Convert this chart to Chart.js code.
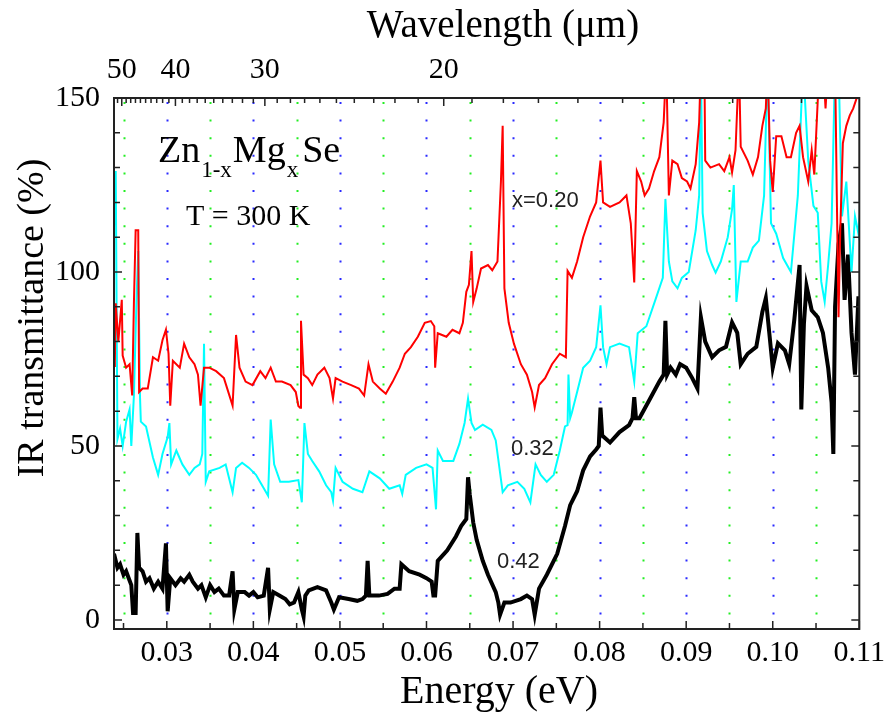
<!DOCTYPE html>
<html>
<head>
<meta charset="utf-8">
<script src="https://cdn.jsdelivr.net/npm/chart.js@4.4.1/dist/chart.umd.min.js"></script>
<style>
  html, body { margin: 0; padding: 0; background: #fff; }
  #grafico { display: block; }
</style>
</head>
<body>
<canvas id="grafico" width="891" height="712"></canvas>
<script>
// Axis ranges and tick labels
const energyMin = 0.0239;
const energyMax = 0.11;
const energyTicks = [0.03, 0.04, 0.05, 0.06, 0.07, 0.08, 0.09, 0.10, 0.11];
const transTicks = [0, 50, 100, 150];
const wavelengthLabels = [50, 40, 30, 20];

// x = 0.20 (red)
const redEnergy = [
  0.0239, 0.0240, 0.0241, 0.0244, 0.0248, 0.0249, 0.0253, 0.0257, 0.0260, 0.0262,
  0.0264, 0.0267, 0.0268, 0.0272, 0.0278, 0.0284, 0.0290, 0.0295, 0.0299, 0.0302,
  0.0304, 0.0307, 0.0315, 0.0320, 0.0326, 0.0332, 0.0336, 0.0339, 0.0343, 0.0349,
  0.0357, 0.0366, 0.0376, 0.0380, 0.0384, 0.0391, 0.0399, 0.0408, 0.0414, 0.0420,
  0.0426, 0.0433, 0.0443, 0.0449, 0.0452, 0.0454, 0.0455, 0.0458, 0.0463, 0.0468,
  0.0474, 0.0482, 0.0488, 0.0492, 0.0495, 0.0503, 0.0513, 0.0522, 0.0528, 0.0533,
  0.0538, 0.0546, 0.0553, 0.0561, 0.0569, 0.0575, 0.0582, 0.0590, 0.0598, 0.0605,
  0.0609, 0.0610, 0.0613, 0.0623, 0.0630, 0.0638, 0.0642, 0.0646, 0.0649, 0.0652,
  0.0654, 0.0658, 0.0663, 0.0671, 0.0676, 0.0682, 0.0686, 0.0688, 0.0690, 0.0695,
  0.0701, 0.0709, 0.0716, 0.0722, 0.0725, 0.0730, 0.0737, 0.0745, 0.0754, 0.0761,
  0.0763, 0.0768, 0.0774, 0.0781, 0.0789, 0.0796, 0.0801, 0.0804, 0.0812, 0.0823,
  0.0831, 0.0836, 0.0840, 0.0843, 0.0848, 0.0852, 0.0857, 0.0863, 0.0869, 0.0874,
  0.0877, 0.0880, 0.0884, 0.0890, 0.0895, 0.0901, 0.0905, 0.0911, 0.0915, 0.0917,
  0.0921, 0.0922, 0.0928, 0.0938, 0.0944, 0.0950, 0.0953, 0.0957, 0.0961, 0.0963,
  0.0971, 0.0977, 0.0983, 0.0988, 0.0992, 0.0994, 0.0997, 0.1000, 0.1004, 0.1010,
  0.1016, 0.1021, 0.1027, 0.1031, 0.1035, 0.1041, 0.1045, 0.1048, 0.1054, 0.1058,
  0.1061, 0.1064, 0.1072, 0.1074, 0.1076, 0.1078, 0.1081, 0.1085, 0.1089, 0.1093,
  0.1097, 0.1101
];
const redTrans = [
  73, 74, 91, 80, 92, 76, 72.5, 73.5, 64.5, 91,
  112, 112, 65.5, 66.5, 66.5, 75.5, 74.5, 80.4, 83.4, 76.5,
  61.6, 74.5, 72.5, 79.4, 75.5, 73.5, 70.5, 61.6, 72.5, 72.5,
  71.5, 69.5, 61.6, 81.9, 72.5, 68.5, 67.5, 71.5, 69.5, 72.5,
  68.5, 68.5, 67.5, 65.5, 61.5, 61, 86, 70.5, 69.5, 67.5,
  70.5, 72.5, 69.5, 63.6, 69.5, 68.5, 67.5, 66.5, 64.5, 73.5,
  68.5, 66.5, 65, 68.5, 72.5, 76.5, 78.4, 81.4, 85.4, 85.9,
  84.4, 72.5, 82.4, 81.4, 83.4, 82.4, 85.4, 94.3, 96.3, 106,
  91.4, 95.3, 101, 102, 100.5, 103, 126, 142, 95.3, 85.4,
  79.4, 73.5, 70.5, 65.5, 61.1, 67.5, 69.5, 73.5, 76.5, 75.5,
  100.3, 98.3, 103, 110, 116, 120, 132, 120, 118.7, 120,
  122, 114, 97, 129, 126, 122, 124, 129, 133, 143,
  160, 122, 132, 131, 127, 126, 124, 131, 143, 160,
  160, 132, 130, 131, 129, 133, 128.6, 135, 160, 136,
  132, 128, 133, 142, 147, 160, 132, 123, 139, 139,
  133, 133, 140, 142, 133, 126, 135, 128, 160, 160,
  147, 160, 160, 122, 87, 112, 137, 142, 145, 147,
  150, 160
];

// x = 0.32 (cyan)
const cyanEnergy = [
  0.0239, 0.0241, 0.0243, 0.0246, 0.0249, 0.0253, 0.0257, 0.0259, 0.0262, 0.0265,
  0.0267, 0.0269, 0.0270, 0.0276, 0.0284, 0.0290, 0.0295, 0.0301, 0.0303, 0.0305,
  0.0311, 0.0318, 0.0326, 0.0332, 0.0338, 0.0341, 0.0343, 0.0345, 0.0349, 0.0361,
  0.0368, 0.0376, 0.0380, 0.0387, 0.0395, 0.0403, 0.0410, 0.0417, 0.0420, 0.0424,
  0.0431, 0.0441, 0.0452, 0.0456, 0.0459, 0.0463, 0.0468, 0.0476, 0.0484, 0.0490,
  0.0492, 0.0495, 0.0503, 0.0515, 0.0526, 0.0534, 0.0546, 0.0557, 0.0569, 0.0572,
  0.0576, 0.0588, 0.0600, 0.0607, 0.0611, 0.0613, 0.0619, 0.0631, 0.0638, 0.0644,
  0.0648, 0.0652, 0.0656, 0.0665, 0.0675, 0.0680, 0.0688, 0.0694, 0.0705, 0.0713,
  0.0720, 0.0726, 0.0732, 0.0739, 0.0747, 0.0754, 0.0760, 0.0763, 0.0764, 0.0766,
  0.0768, 0.0774, 0.0781, 0.0789, 0.0796, 0.0801, 0.0804, 0.0808, 0.0812, 0.0823,
  0.0834, 0.0840, 0.0844, 0.0854, 0.0865, 0.0873, 0.0876, 0.0880, 0.0884, 0.0890,
  0.0895, 0.0903, 0.0911, 0.0915, 0.0917, 0.0919, 0.0924, 0.0930, 0.0934, 0.0940,
  0.0948, 0.0953, 0.0955, 0.0958, 0.0963, 0.0971, 0.0977, 0.0984, 0.0990, 0.0994,
  0.0998, 0.1004, 0.1012, 0.1021, 0.1029, 0.1035, 0.1041, 0.1047, 0.1052, 0.1056,
  0.1060, 0.1064, 0.1068, 0.1072, 0.1076, 0.1080, 0.1085, 0.1091, 0.1095, 0.1099,
  0.1101
];
const cyanTrans = [
  113, 129, 52, 55, 50, 57, 60.5, 50, 64.5, 92,
  106, 64.5, 57, 55.6, 46.7, 41.7, 47.7, 52.6, 56.6, 44.7,
  48.7, 44.7, 41.7, 43.7, 44.7, 47.7, 79.4, 39.7, 42.7, 43.7,
  44.7, 36.7, 43.7, 45.2, 43.7, 41.7, 38.7, 35.7, 57.6, 44.7,
  39.7, 39.7, 40.2, 33.8, 56.6, 47.7, 45.7, 42.7, 38.7, 36.7,
  34.3, 43.7, 39.7, 37.7, 36.7, 42.7, 40.7, 37.7, 38.7, 36.2,
  41.7, 43.7, 44.7, 43.7, 31.8, 48.7, 45.7, 45.7, 50.6, 56.6,
  63.6, 56.6, 54.6, 56.1, 54.6, 51.6, 36.7, 38.7, 39.7, 37.7,
  33.8, 44.7, 41.7, 39.7, 41.7, 48.7, 55.6, 56, 70.5, 58,
  59.6, 65.5, 72.5, 74.5, 78.4, 90.4, 78.4, 73.5, 78.4, 79.4,
  78.4, 68.5, 82.4, 84.4, 92.4, 98.3, 121, 103, 97.3, 95.3,
  98.3, 100, 112, 122, 160, 117, 106, 102, 99.8, 103,
  110, 118, 125, 91.4, 103, 103, 107, 109, 122, 160,
  114, 111, 104, 100, 122, 160, 132, 119, 117, 97.3,
  91.4, 102, 114, 160, 160, 116, 126, 100, 116, 111,
  117
];

// x = 0.42 (black)
const blackEnergy = [
  0.0239, 0.0243, 0.0246, 0.0250, 0.0253, 0.0256, 0.0259, 0.0261, 0.0264, 0.0266,
  0.0268, 0.0272, 0.0276, 0.0280, 0.0285, 0.0290, 0.0295, 0.0299, 0.0301, 0.0304,
  0.0310, 0.0316, 0.0320, 0.0326, 0.0330, 0.0336, 0.0340, 0.0345, 0.0350, 0.0355,
  0.0360, 0.0366, 0.0372, 0.0376, 0.0378, 0.0382, 0.0390, 0.0395, 0.0400, 0.0405,
  0.0412, 0.0417, 0.0419, 0.0423, 0.0430, 0.0437, 0.0442, 0.0447, 0.0452, 0.0456,
  0.0458, 0.0460, 0.0464, 0.0474, 0.0484, 0.0490, 0.0493, 0.0499, 0.0510, 0.0520,
  0.0526, 0.0530, 0.0532, 0.0534, 0.0545, 0.0555, 0.0563, 0.0569, 0.0571, 0.0580,
  0.0592, 0.0600, 0.0606, 0.0608, 0.0610, 0.0613, 0.0624, 0.0634, 0.0640, 0.0646,
  0.0648, 0.0650, 0.0654, 0.0658, 0.0665, 0.0671, 0.0680, 0.0683, 0.0685, 0.0690,
  0.0697, 0.0709, 0.0716, 0.0722, 0.0725, 0.0730, 0.0739, 0.0751, 0.0760, 0.0766,
  0.0774, 0.0781, 0.0789, 0.0796, 0.0799, 0.0801, 0.0803, 0.0812, 0.0823, 0.0834,
  0.0838, 0.0840, 0.0842, 0.0846, 0.0857, 0.0869, 0.0874, 0.0876, 0.0878, 0.0882,
  0.0888, 0.0893, 0.0900, 0.0907, 0.0913, 0.0917, 0.0922, 0.0930, 0.0938, 0.0946,
  0.0953, 0.0959, 0.0963, 0.0971, 0.0981, 0.0988, 0.0992, 0.0996, 0.1000, 0.1006,
  0.1014, 0.1019, 0.1025, 0.1031, 0.1033, 0.1036, 0.1039, 0.1045, 0.1052, 0.1058,
  0.1064, 0.1068, 0.1070, 0.1072, 0.1076, 0.1080, 0.1083, 0.1087, 0.1091, 0.1095,
  0.1099, 0.1101
];
const blackTrans = [
  19, 15, 16, 13, 14, 12, 10, 2, 2, 25,
  15, 14, 11, 12, 9, 11, 9, 22, 2.5, 12,
  10, 12, 11, 13, 11, 9, 10, 6.5, 10, 8,
  9, 7, 7, 14, 3, 8, 8, 7, 8, 6.5,
  7, 15, 3, 8, 7, 6, 4.5, 5, 8, 3,
  1, 7, 8.5, 9.4, 8.5, 5, 3, 6.5, 6, 5.5,
  6, 7, 17, 7, 7, 7.5, 9, 9, 16, 14,
  13, 12, 11, 7, 7, 17, 20, 24, 27, 29,
  41, 36, 28, 23, 17, 13, 8, 5, 1.5, 5,
  5, 6, 7, 6, 1.5, 9, 13, 19, 27, 33,
  37, 43, 47, 49, 50, 61, 53, 51, 54, 56,
  58, 64, 58, 58, 63, 68.5, 70.5, 86, 70.5, 72.5,
  70.5, 73.5, 72.5, 69.5, 66.5, 87, 80, 75.5, 77.5, 78.5,
  85.5, 82.5, 73.5, 76.5, 78.5, 88.5, 92.5, 82.5, 72.5, 79.5,
  77.5, 73.5, 86.5, 102, 60.5, 85, 96, 89, 87, 82.5,
  72.5, 62.5, 47.7, 90, 108, 114, 92, 105, 82.5, 70.5,
  93, 80
];

const serif = "'Liberation Serif', 'Times New Roman', serif";
const sans = "'Liberation Sans', Arial, sans-serif";

function pares(xs, ys) {
  return xs.map((x, i) => ({ x, y: ys[i] }));
}

// dotted verticals, inward ticks, frame, titles and labels
const extras = {
  id: 'extras',
  beforeDatasetsDraw(chart) {
    const { ctx, chartArea: a, scales: { x } } = chart;
    ctx.save();
    ctx.lineWidth = 2;
    ctx.setLineDash([2, 15.6]);
    for (let k = 5; k < 22; k++) {
      const px = Math.round(x.getPixelForValue(k * 0.005)) + 0.5;
      ctx.strokeStyle = k % 2 === 0 ? '#2a2aff' : '#22ee22';
      ctx.beginPath();
      ctx.moveTo(px, a.top + 4);
      ctx.lineTo(px, a.bottom);
      ctx.stroke();
    }
    ctx.restore();
  },
  afterDatasetsDraw(chart) {
    const { ctx, chartArea: a, scales: { x, y, xTop } } = chart;
    ctx.save();
    ctx.strokeStyle = '#222';
    ctx.lineWidth = 1.5;
    ctx.beginPath();
    // bottom ticks every 0.005 eV
    for (let k = 5; k <= 22; k++) {
      const px = x.getPixelForValue(k * 0.005);
      const len = k % 2 === 0 ? 8 : 6;
      ctx.moveTo(px, a.bottom);
      ctx.lineTo(px, a.bottom - len);
    }
    // top ticks every micrometre
    for (let lam = 12; lam <= 51; lam++) {
      const px = xTop.getPixelForValue(1.23984 / lam);
      if (px < a.left || px > a.right) continue;
      const len = lam % 10 === 0 ? 8 : 5;
      ctx.moveTo(px, a.top);
      ctx.lineTo(px, a.top + len);
    }
    // left and right ticks every 10 %
    for (let v = 0; v <= 150; v += 10) {
      const py = y.getPixelForValue(v);
      const len = v % 50 === 0 ? 8 : 6;
      ctx.moveTo(a.left, py);
      ctx.lineTo(a.left + len, py);
      ctx.moveTo(a.right, py);
      ctx.lineTo(a.right - len, py);
    }
    ctx.stroke();
    ctx.lineWidth = 2;
    ctx.strokeRect(a.left, a.top, a.right - a.left, a.bottom - a.top);

    // titles
    ctx.fillStyle = '#000';
    ctx.textBaseline = 'alphabetic';
    ctx.textAlign = 'center';
    ctx.font = `39px ${serif}`;
    ctx.fillText('Wavelength (\u03bcm)', 503, 37);
    ctx.font = `40px ${serif}`;
    ctx.fillText('Energy (eV)', 499, 703);
    ctx.save();
    ctx.font = `38px ${serif}`;
    ctx.translate(43, 318);
    ctx.rotate(-Math.PI / 2);
    ctx.fillText('IR transmittance (%)', 0, 0);
    ctx.restore();

    // formula
    ctx.textAlign = 'left';
    let px = 158;
    const partes = [['Zn', 38, 162], ['1-x', 23, 177], ['Mg', 38, 162], ['x', 23, 177], ['Se', 38, 162]];
    partes.forEach(([t, size, base], i) => {
      ctx.font = `${size}px ${serif}`;
      ctx.fillText(t, px, base);
      px += ctx.measureText(t).width + (i === 3 ? 4 : 1);
    });
    ctx.font = `30px ${serif}`;
    ctx.fillText('T = 300 K', 186, 225);

    // series labels
    ctx.font = `22px ${sans}`;
    ctx.fillStyle = '#222';
    ctx.fillText('x=0.20', 512, 207);
    ctx.fillText('0.32', 511, 455);
    ctx.fillText('0.42', 497, 568);
    ctx.restore();
  }
};

const tickFont = { family: serif, size: 30 };

new Chart(document.getElementById('grafico'), {
  type: 'line',
  data: {
    datasets: [
      {
        label: 'x=0.20',
        data: pares(redEnergy, redTrans),
        borderColor: '#ff0000',
        borderWidth: 2
      },
      {
        label: 'x=0.32',
        data: pares(cyanEnergy, cyanTrans),
        borderColor: '#00ffff',
        borderWidth: 2
      },
      {
        label: 'x=0.42',
        data: pares(blackEnergy, blackTrans),
        borderColor: '#000000',
        borderWidth: 4
      }
    ]
  },
  options: {
    responsive: false,
    animation: false,
    devicePixelRatio: 1,
    layout: { padding: { left: 0, right: 27, top: 0, bottom: 0 } },
    elements: {
      point: { radius: 0 },
      line: { tension: 0, fill: false }
    },
    datasets: { line: { clip: 0 } },
    plugins: {
      legend: { display: false },
      tooltip: { enabled: false }
    },
    scales: {
      x: {
        type: 'linear',
        position: 'bottom',
        min: energyMin,
        max: energyMax,
        grid: { display: false, drawTicks: false },
        border: { display: false },
        ticks: {
          font: tickFont,
          color: '#000',
          padding: 6,
          maxRotation: 0,
          autoSkip: false,
          callback: v => v.toFixed(2)
        },
        afterBuildTicks: s => { s.ticks = energyTicks.map(v => ({ value: v })); },
        afterFit: s => { s.height = 83; }
      },
      xTop: {
        type: 'linear',
        position: 'top',
        min: energyMin,
        max: energyMax,
        grid: { display: false, drawTicks: false },
        border: { display: false },
        ticks: {
          font: tickFont,
          color: '#000',
          padding: 10,
          maxRotation: 0,
          autoSkip: false,
          callback: (v, i) => String(wavelengthLabels[i])
        },
        afterBuildTicks: s => { s.ticks = wavelengthLabels.map(l => ({ value: 1.23984 / l })); },
        afterFit: s => { s.height = 98; }
      },
      y: {
        type: 'linear',
        position: 'left',
        min: -2.6,
        max: 150,
        grid: { display: false, drawTicks: false },
        border: { display: false },
        ticks: {
          font: tickFont,
          color: '#000',
          padding: 14,
          autoSkip: false
        },
        afterBuildTicks: s => { s.ticks = transTicks.map(v => ({ value: v })); },
        afterFit: s => { s.width = 114; }
      }
    }
  },
  plugins: [extras]
});
</script>
</body>
</html>
